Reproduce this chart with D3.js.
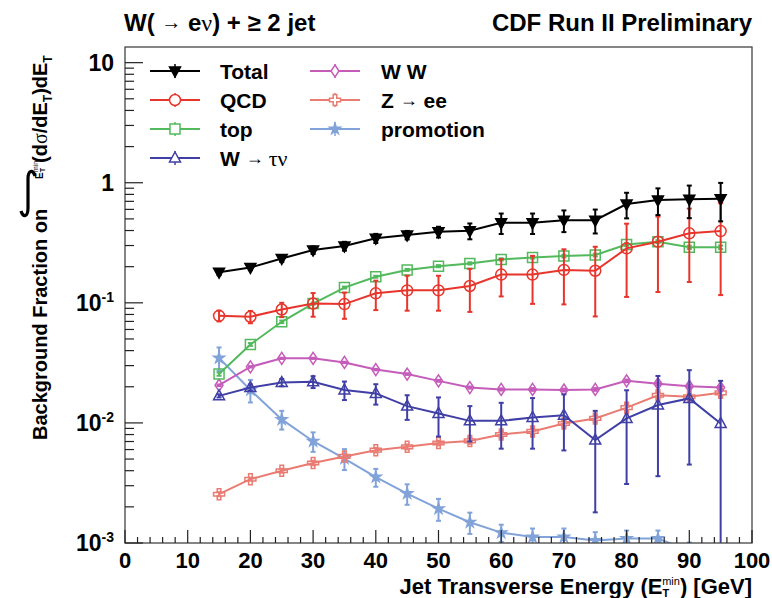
<!DOCTYPE html>
<html>
<head>
<meta charset="utf-8">
<script src="https://cdn.jsdelivr.net/npm/d3@7"></script>
<style>
  body { margin: 0; background: #fff; }
  text { font-family: "Liberation Sans", Arial, sans-serif; font-weight: bold; fill: #000; }
  .gr { font-family: "Liberation Serif", "DejaVu Serif", serif; font-weight: normal; }
</style>
</head>
<body>
<svg id="chart" width="772" height="598"></svg>
<script>
// jet Et thresholds (GeV)
var etMin = [15, 20, 25, 30, 35, 40, 45, 50, 55, 60, 65, 70, 75, 80, 85, 90, 95];

var totalVal = [0.180, 0.197, 0.234, 0.275, 0.297, 0.345, 0.367, 0.390, 0.398, 0.464, 0.464, 0.488, 0.488, 0.665, 0.718, 0.727, 0.737];
var totalErr = [0.01, 0.01, 0.015, 0.02, 0.025, 0.03, 0.03, 0.04, 0.06, 0.09, 0.09, 0.10, 0.11, 0.16, 0.18, 0.22, 0.26];

var qcdVal = [0.078, 0.0766, 0.088, 0.0986, 0.0976, 0.120, 0.127, 0.127, 0.138, 0.172, 0.172, 0.188, 0.185, 0.284, 0.323, 0.379, 0.396];
var qcdErr = [0.008, 0.009, 0.012, 0.022, 0.024, 0.033, 0.041, 0.041, 0.054, 0.059, 0.074, 0.091, 0.108, 0.172, 0.20, 0.23, 0.28];

var topVal = [0.0255, 0.045, 0.0695, 0.0986, 0.134, 0.165, 0.188, 0.202, 0.213, 0.230, 0.239, 0.245, 0.250, 0.306, 0.323, 0.290, 0.290];
var topErr = [0.0008, 0.0012, 0.0017, 0.002, 0.0025, 0.003, 0.0035, 0.004, 0.0045, 0.005, 0.0055, 0.006, 0.0065, 0.008, 0.009, 0.009, 0.01];

var tauVal = [0.0168, 0.0197, 0.0217, 0.0220, 0.0188, 0.0176, 0.0138, 0.0120, 0.0104, 0.0104, 0.0111, 0.0116, 0.0072, 0.0109, 0.0141, 0.0160, 0.0099];
var tauErr = [0.0005, 0.0012, 0.0015, 0.0025, 0.0033, 0.0034, 0.0032, 0.0043, 0.0034, 0.0043, 0.005, 0.0057, 0.0054, 0.0078, 0.0105, 0.0115, 0.0125];

var wwVal = [0.0206, 0.0293, 0.0345, 0.0345, 0.0319, 0.0278, 0.0255, 0.0224, 0.0197, 0.0190, 0.0190, 0.0188, 0.0190, 0.0224, 0.0212, 0.0202, 0.0197];
var wwErr = [0.0003, 0.0004, 0.0004, 0.0004, 0.0004, 0.0004, 0.0004, 0.0004, 0.0004, 0.0004, 0.0005, 0.0005, 0.0005, 0.0006, 0.0006, 0.0007, 0.0007];

var zeeVal = [0.00255, 0.0034, 0.0040, 0.00464, 0.00526, 0.00593, 0.00632, 0.0068, 0.00708, 0.0080, 0.0085, 0.0099, 0.0109, 0.0134, 0.0170, 0.0165, 0.0178];
var zeeErr = [0.0001, 0.0001, 0.00015, 0.0002, 0.0002, 0.00025, 0.0003, 0.0003, 0.0004, 0.0005, 0.0005, 0.0006, 0.0007, 0.0008, 0.001, 0.001, 0.0011];

var promoX   = [15, 20, 25, 30, 35, 40, 45, 50, 55, 60, 65, 70, 75, 80, 85, 90];
var promoVal = [0.0348, 0.0188, 0.0107, 0.00704, 0.00505, 0.00354, 0.00258, 0.00193, 0.00149, 0.00122, 0.00112, 0.00112, 0.00105, 0.00109, 0.00109, 0.00086];
var promoErr = [0.0077, 0.004, 0.0019, 0.0013, 0.001, 0.0006, 0.0005, 0.0004, 0.0003, 0.0002, 0.0002, 0.0002, 0.00018, 0.00018, 0.00018, 0.00015];

var xTicks = [0, 10, 20, 30, 40, 50, 60, 70, 80, 90, 100];
var yTicks = [1e-3, 1e-2, 1e-1, 1, 10];

var svg = d3.select("#chart");
var pL = 125, pR = 752, pT = 47, pB = 543;

var x = d3.scaleLinear().domain([0, 100]).range([pL, pR]);
var y = d3.scaleLog().domain([1e-3, 13.5]).range([pB, pT]);

// marker shapes
function markerPath(kind) {
  if (kind == "triDown") return "M0,6L-5.5,-4L5.5,-4Z";
  if (kind == "triUp") return "M0,-6L5.5,4L-5.5,4Z";
  if (kind == "circle") return d3.symbol(d3.symbolCircle, Math.PI * 30)();
  if (kind == "square") return "M-5,-5H5V5H-5Z";
  if (kind == "diamond") return "M0,-6L4,0L0,6L-4,0Z";
  if (kind == "cross") return "M-1.8,-5.5H1.8V-1.8H5.5V1.8H1.8V5.5H-1.8V1.8H-5.5V-1.8H-1.8Z";
  if (kind == "star") return d3.symbol(d3.symbolStar, 36)();
}

var series = [
  {name: "promotion", xs: promoX, v: promoVal, e: promoErr, color: "#82a3d9", marker: "star", filled: true},
  {name: "Z", xs: etMin, v: zeeVal, e: zeeErr, color: "#ea7b72", marker: "cross"},
  {name: "WW", xs: etMin, v: wwVal, e: wwErr, color: "#c55cba", marker: "diamond"},
  {name: "tau", xs: etMin, v: tauVal, e: tauErr, color: "#3f3fa6", marker: "triUp"},
  {name: "top", xs: etMin, v: topVal, e: topErr, color: "#52b95c", marker: "square"},
  {name: "QCD", xs: etMin, v: qcdVal, e: qcdErr, color: "#e8352c", marker: "circle"},
  {name: "Total", xs: etMin, v: totalVal, e: totalErr, color: "#000000", marker: "triDown", filled: true}
];

svg.append("clipPath").attr("id", "frame")
  .append("rect").attr("x", pL).attr("y", pT).attr("width", pR - pL).attr("height", pB - pT);

var plot = svg.append("g").attr("clip-path", "url(#frame)");

series.forEach(function(s) {
  var pts = s.xs.map(function(d, i) { return {x: d, v: s.v[i], e: s.e[i]}; });
  var g = plot.append("g");
  g.append("path").datum(pts)
    .attr("fill", "none").attr("stroke", s.color).attr("stroke-width", 2)
    .attr("d", d3.line().x(function(d) { return x(d.x); }).y(function(d) { return y(d.v); }));

  // error bars with small caps
  pts.forEach(function(p) {
    var hi = y(p.v + p.e), lo = y(Math.max(p.v - p.e, 1e-4));
    var cx = x(p.x);
    g.append("line").attr("x1", cx).attr("x2", cx).attr("y1", hi).attr("y2", lo)
      .attr("stroke", s.color).attr("stroke-width", 2);
    g.append("line").attr("x1", cx - 2.5).attr("x2", cx + 2.5).attr("y1", hi).attr("y2", hi)
      .attr("stroke", s.color).attr("stroke-width", 2);
    g.append("line").attr("x1", cx - 2.5).attr("x2", cx + 2.5).attr("y1", lo).attr("y2", lo)
      .attr("stroke", s.color).attr("stroke-width", 2);
  });

  g.selectAll("path.mk").data(pts).enter().append("path")
    .attr("class", "mk")
    .attr("transform", function(d) { return "translate(" + x(d.x) + "," + y(d.v) + ")"; })
    .attr("d", markerPath(s.marker))
    .attr("fill", s.filled ? s.color : "none")
    .attr("stroke", s.color).attr("stroke-width", 1.5);
});

// frame
svg.append("rect").attr("x", pL).attr("y", pT).attr("width", pR - pL).attr("height", pB - pT)
  .attr("fill", "none").attr("stroke", "#444").attr("stroke-width", 1.3);

// x ticks
var ax = svg.append("g").attr("stroke", "#222").attr("stroke-width", 1.2);
d3.range(0, 101, 2).forEach(function(t) {
  var len = (t % 10 == 0) ? 13 : 6;
  ax.append("line").attr("x1", x(t)).attr("x2", x(t)).attr("y1", pB).attr("y2", pB - len);
});
svg.selectAll("text.xt").data(xTicks).enter().append("text")
  .attr("class", "xt").attr("x", function(d) { return x(d); }).attr("y", 568)
  .attr("text-anchor", "middle").attr("font-size", 22).text(function(d) { return d; });

// y ticks (log)
[1e-3, 1e-2, 1e-1, 1].forEach(function(dec) {
  for (var k = 1; k <= 9; k++) {
    var v = dec * k;
    var len = (k == 1) ? 18 : 9;
    ax.append("line").attr("x1", pL).attr("x2", pL + len).attr("y1", y(v)).attr("y2", y(v));
  }
});
ax.append("line").attr("x1", pL).attr("x2", pL + 18).attr("y1", y(10)).attr("y2", y(10));

yTicks.forEach(function(v) {
  var t = svg.append("text").attr("x", 114).attr("y", y(v) + 8).attr("text-anchor", "end").attr("font-size", 23);
  if (v == 1) t.text("1");
  else if (v == 10) t.text("10");
  else {
    var p = Math.round(Math.log10(v));
    t.append("tspan").text("10");
    t.append("tspan").attr("font-size", 14).attr("dy", -9).text(p);
  }
});

// titles
var t1 = svg.append("text").attr("x", 124).attr("y", 31).attr("font-size", 24);
t1.append("tspan").text("W( ");
t1.append("tspan").attr("font-size", 20).attr("font-weight", "normal").attr("dy", -2).text("\u2192");
t1.append("tspan").attr("dy", 2).text(" e");
t1.append("tspan").attr("class", "gr").text("\u03bd");
t1.append("tspan").text(") + \u2265 2 jet");

svg.append("text").attr("x", 752).attr("y", 31).attr("text-anchor", "end").attr("font-size", 24)
  .text("CDF Run II Preliminary");

var xl = svg.append("text").attr("x", 752).attr("y", 594).attr("text-anchor", "end").attr("font-size", 22);
xl.append("tspan").text("Jet Transverse Energy (E");
xl.append("tspan").attr("font-size", 11).attr("dy", 3).text("T");
xl.append("tspan").attr("font-size", 11).attr("dx", -7).attr("dy", -12).attr("font-weight", "normal").text("min");
xl.append("tspan").attr("dy", 9).text(") [GeV]");

// y title
var yl = svg.append("g").attr("transform", "translate(47,440) rotate(-90)");
yl.append("text").attr("x", 0).attr("y", 0).attr("font-size", 20).text("Background Fraction on");
var sub = yl.append("text").attr("x", 261).attr("y", -4).attr("font-size", 10);
sub.append("tspan").text("E");
sub.append("tspan").attr("font-size", 7).attr("dy", 2).text("T");
sub.append("tspan").attr("font-size", 7).attr("dx", -4).attr("dy", -7).attr("font-weight", "normal").text("min");
var yt = yl.append("text").attr("x", 277).attr("y", 0).attr("font-size", 20);
yt.append("tspan").text("(d");
yt.append("tspan").attr("class", "gr").text("\u03c3");
yt.append("tspan").text("/dE");
yt.append("tspan").attr("font-size", 12).attr("dy", 5).text("T");
yt.append("tspan").attr("dy", -5).text(")dE");
yt.append("tspan").attr("font-size", 12).attr("dy", 5).text("T");
// integral sign drawn upright, like the original
svg.append("path").attr("d", "M35,176 C33,169 28,170 28,179 L28,208 C28,217 23,218 21,211")
  .attr("fill", "none").attr("stroke", "#000").attr("stroke-width", 3.2);

// legend
var legend = [
  {s: "Total", col: 0, row: 0},
  {s: "QCD", col: 0, row: 1},
  {s: "top", col: 0, row: 2},
  {s: "tau", col: 0, row: 3},
  {s: "WW", col: 1, row: 0},
  {s: "Z", col: 1, row: 1},
  {s: "promotion", col: 1, row: 2}
];
var colLine = [[150, 200], [310, 360]];
var colText = [220, 381];
legend.forEach(function(L) {
  var s = series.find(function(d) { return d.name == L.s; });
  var cy = 71 + L.row * 29;
  var x0 = colLine[L.col][0], x1 = colLine[L.col][1], mx = (x0 + x1) / 2;
  svg.append("line").attr("x1", x0).attr("x2", x1).attr("y1", cy).attr("y2", cy)
    .attr("stroke", s.color).attr("stroke-width", 2);
  svg.append("line").attr("x1", mx).attr("x2", mx).attr("y1", cy - 7).attr("y2", cy + 7)
    .attr("stroke", s.color).attr("stroke-width", 1.5);
  svg.append("path").attr("transform", "translate(" + mx + "," + cy + ")")
    .attr("d", markerPath(s.marker))
    .attr("fill", s.filled ? s.color : "#fff").attr("stroke", s.color).attr("stroke-width", 1.5);
  var t = svg.append("text").attr("x", colText[L.col]).attr("y", cy + 8).attr("font-size", 21);
  if (L.s == "tau") {
    t.append("tspan").text("W ");
    t.append("tspan").attr("font-size", 18).attr("font-weight", "normal").attr("dy", -2).text("\u2192 ");
    t.append("tspan").attr("class", "gr").attr("font-size", 22).attr("dy", 2).text("\u03c4\u03bd");
  } else if (L.s == "Z") {
    t.append("tspan").text("Z ");
    t.append("tspan").attr("font-size", 18).attr("font-weight", "normal").attr("dy", -2).text("\u2192");
    t.append("tspan").attr("dy", 2).text(" ee");
  } else if (L.s == "WW") {
    t.text("W W");
  } else {
    t.text(L.s);
  }
});
</script>
</body>
</html>
